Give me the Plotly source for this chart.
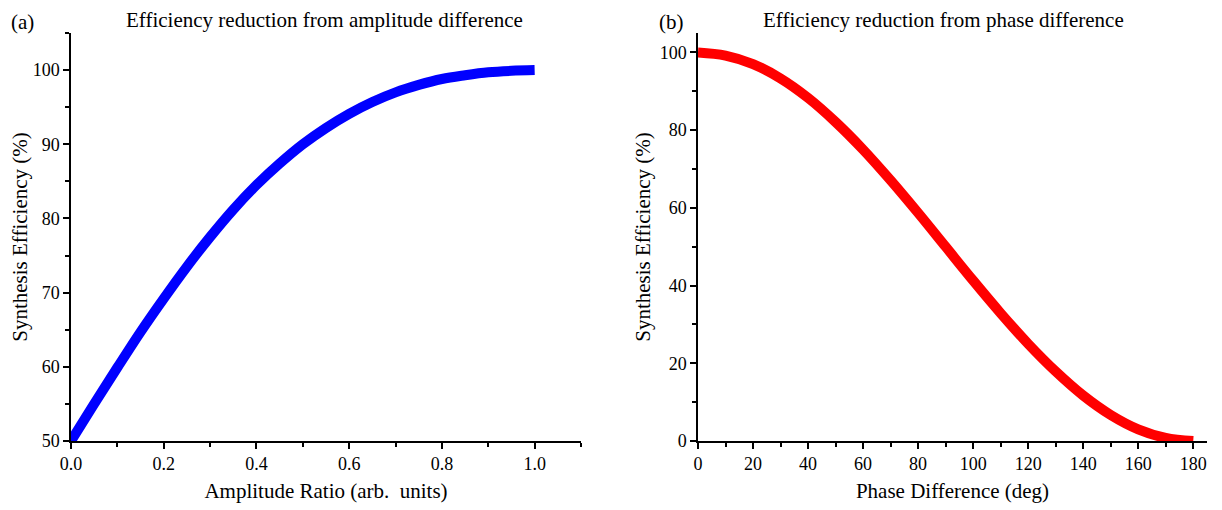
import plotly.graph_objects as go

amp_ratio = [0.0, 0.05, 0.1, 0.15, 0.2, 0.25, 0.3, 0.35, 0.4, 0.45, 0.5,
             0.55, 0.6, 0.65, 0.7, 0.75, 0.8, 0.85, 0.9, 0.95, 1.0]
amp_eff = [50.0, 55.0, 59.9, 64.7, 69.2, 73.5, 77.5, 81.2, 84.5, 87.4, 90.0,
           92.2, 94.1, 95.7, 97.0, 98.0, 98.8, 99.3, 99.7, 99.9, 100.0]

phase_deg = [0, 10, 20, 30, 40, 50, 60, 70, 80, 90, 100, 110, 120, 130,
             140, 150, 160, 170, 180]
phase_eff = [100.0, 99.2, 97.0, 93.3, 88.3, 82.1, 75.0, 67.1, 58.7, 50.0,
             41.3, 32.9, 25.0, 17.9, 11.7, 6.7, 3.0, 0.8, 0.0]

FONT = "Liberation Serif, Times New Roman, serif"
W, H = 1214, 502  # page body has an 8px margin

fig = go.Figure()
fig.add_trace(go.Scatter(x=amp_ratio, y=amp_eff, mode="lines",
                         line=dict(color="#0000ff", width=10, shape="spline"),
                         xaxis="x", yaxis="y", showlegend=False))
fig.add_trace(go.Scatter(x=phase_deg, y=phase_eff, mode="lines",
                         line=dict(color="#ff0000", width=10, shape="spline"),
                         xaxis="x2", yaxis="y2", showlegend=False))

ax_common = dict(showline=True, linecolor="black", linewidth=1.5,
                 ticks="outside", ticklen=6, tickwidth=1.5, tickcolor="black",
                 showgrid=False, zeroline=False, automargin=False,
                 tickfont=dict(family=FONT, size=18, color="black"),
                 title_font=dict(family=FONT, size=21, color="black"))
minor_common = dict(ticks="outside", ticklen=4, tickwidth=1.5, tickcolor="black")

ydom = [1 - 433 / H, 1 - 25 / H]

fig.update_layout(
    width=W, height=H,
    margin=dict(l=0, r=0, t=0, b=0),
    paper_bgcolor="white", plot_bgcolor="white",
    xaxis=dict(domain=[63 / W, 573 / W], range=[0, 1.1], anchor="y",
               tickvals=[0, 0.2, 0.4, 0.6, 0.8, 1.0],
               ticktext=["0.0", "0.2", "0.4", "0.6", "0.8", "1.0"],
               minor=dict(dtick=0.1, **minor_common),
               title=dict(text="Amplitude Ratio (arb.  units)", standoff=10),
               **ax_common),
    yaxis=dict(domain=ydom, range=[50, 105], anchor="x",
               tickvals=[50, 60, 70, 80, 90, 100],
               minor=dict(dtick=5, **minor_common),
               title=dict(text="Synthesis Efficiency (%)", standoff=3),
               **ax_common),
    xaxis2=dict(domain=[690 / W, 1199 / W], range=[0, 185], anchor="y2",
                tickvals=[0, 20, 40, 60, 80, 100, 120, 140, 160, 180],
                minor=dict(dtick=10, **minor_common),
                title=dict(text="Phase Difference (deg)", standoff=10),
                **ax_common),
    yaxis2=dict(domain=ydom, range=[0, 105], anchor="x2",
                tickvals=[0, 20, 40, 60, 80, 100],
                minor=dict(dtick=10, **minor_common),
                title=dict(text="Synthesis Efficiency (%)", standoff=3),
                **ax_common),
    annotations=[
        dict(text="Efficiency reduction from amplitude difference", x=317 / W, y=1 - 12 / H,
             xref="paper", yref="paper", showarrow=False, xanchor="center", yanchor="middle",
             font=dict(family=FONT, size=21, color="black")),
        dict(text="Efficiency reduction from phase difference", x=935 / W, y=1 - 12 / H,
             xref="paper", yref="paper", showarrow=False, xanchor="center", yanchor="middle",
             font=dict(family=FONT, size=21, color="black")),
        dict(text="(a)", x=1 / W, y=1, xref="paper", yref="paper", showarrow=False,
             xanchor="left", yanchor="top", font=dict(family=FONT, size=21, color="black")),
        dict(text="(b)", x=649 / W, y=1, xref="paper", yref="paper", showarrow=False,
             xanchor="left", yanchor="top", font=dict(family=FONT, size=21, color="black")),
    ],
)

fig.write_html("out.html")
